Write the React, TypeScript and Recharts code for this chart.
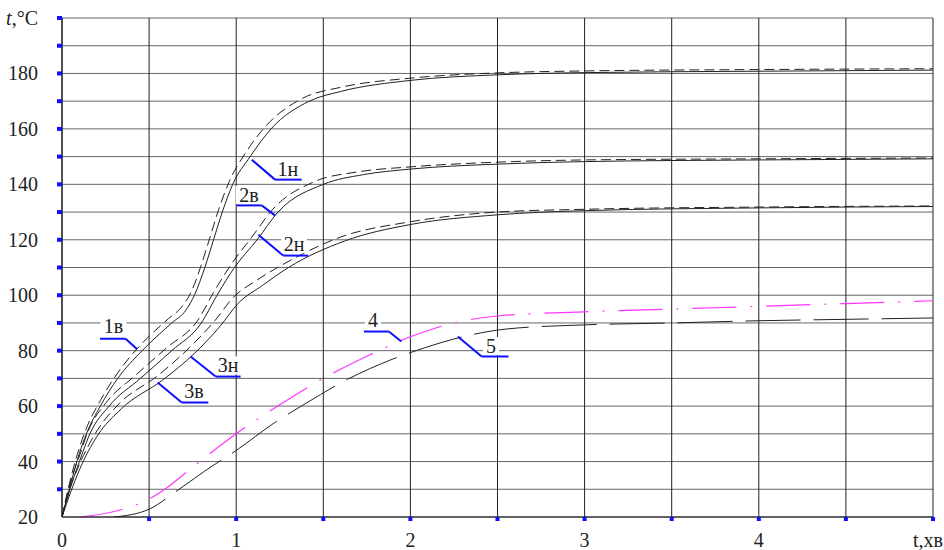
import React from "react";
import { LineChart, Line, XAxis, YAxis, CartesianGrid, ReferenceLine, ReferenceDot } from "recharts";

// ---- Series data (x: time, хв ; y: temperature, °C) ----
const curve1n = [
  { x: 0, y: 20 }, { x: 0.05, y: 32 }, { x: 0.1, y: 43 }, { x: 0.14, y: 50 }, { x: 0.22, y: 60 },
  { x: 0.32, y: 70 }, { x: 0.46, y: 80 }, { x: 0.63, y: 90 }, { x: 0.71, y: 94.5 }, { x: 0.76, y: 100 },
  { x: 0.82, y: 110 }, { x: 0.87, y: 120 }, { x: 0.92, y: 130 }, { x: 0.98, y: 140 }, { x: 1.08, y: 150 },
  { x: 1.2, y: 160 }, { x: 1.42, y: 170 }, { x: 1.6, y: 173.5 }, { x: 2, y: 177.5 }, { x: 2.5, y: 179.5 },
  { x: 3, y: 180.3 }, { x: 4, y: 180.8 }, { x: 5, y: 181.2 },
];
const curve1v = [
  { x: 0, y: 20 }, { x: 0.05, y: 34 }, { x: 0.1, y: 45 }, { x: 0.14, y: 52 }, { x: 0.22, y: 62 },
  { x: 0.32, y: 72 }, { x: 0.45, y: 82 }, { x: 0.61, y: 91.5 }, { x: 0.69, y: 96 }, { x: 0.74, y: 101 },
  { x: 0.8, y: 111 }, { x: 0.85, y: 121 }, { x: 0.9, y: 131 }, { x: 0.96, y: 141 }, { x: 1.05, y: 151 },
  { x: 1.17, y: 161 }, { x: 1.38, y: 171 }, { x: 1.6, y: 175 }, { x: 2, y: 178.3 }, { x: 2.5, y: 180.2 },
  { x: 3, y: 180.9 }, { x: 4, y: 181.4 }, { x: 5, y: 181.7 },
];
const curve2n = [
  { x: 0, y: 20 }, { x: 0.05, y: 31 }, { x: 0.1, y: 40 }, { x: 0.16, y: 50 }, { x: 0.27, y: 60 },
  { x: 0.45, y: 70 }, { x: 0.63, y: 80 }, { x: 0.8, y: 90 }, { x: 0.89, y: 100 }, { x: 0.99, y: 110 },
  { x: 1.12, y: 120 }, { x: 1.24, y: 130 }, { x: 1.5, y: 140 }, { x: 1.73, y: 143.5 }, { x: 2, y: 145.5 },
  { x: 2.5, y: 147.3 }, { x: 3, y: 148.2 }, { x: 4, y: 148.8 }, { x: 5, y: 149.2 },
];
const curve2v = [
  { x: 0, y: 20 }, { x: 0.05, y: 33 }, { x: 0.1, y: 42 }, { x: 0.15, y: 51 }, { x: 0.25, y: 61 },
  { x: 0.42, y: 71 }, { x: 0.6, y: 81 }, { x: 0.78, y: 91 }, { x: 0.87, y: 101 }, { x: 0.97, y: 111 },
  { x: 1.09, y: 121 }, { x: 1.21, y: 131 }, { x: 1.45, y: 141 }, { x: 1.7, y: 144.5 }, { x: 2, y: 146.3 },
  { x: 2.5, y: 148 }, { x: 3, y: 148.8 }, { x: 4, y: 149.2 }, { x: 5, y: 149.5 },
];
const curve3n = [
  { x: 0, y: 20 }, { x: 0.05, y: 29 }, { x: 0.1, y: 37 }, { x: 0.2, y: 49 }, { x: 0.34, y: 59 },
  { x: 0.58, y: 69.5 }, { x: 0.76, y: 79 }, { x: 0.91, y: 89 }, { x: 1.01, y: 97 }, { x: 1.15, y: 103.5 },
  { x: 1.3, y: 110 }, { x: 1.62, y: 119.5 }, { x: 2, y: 125.5 }, { x: 2.5, y: 129 }, { x: 3, y: 130.5 },
  { x: 4, y: 131.5 }, { x: 5, y: 132 },
];
const curve3v = [
  { x: 0, y: 20 }, { x: 0.05, y: 31 }, { x: 0.1, y: 39 }, { x: 0.2, y: 51 }, { x: 0.33, y: 61 },
  { x: 0.55, y: 71 }, { x: 0.73, y: 81 }, { x: 0.88, y: 91 }, { x: 0.98, y: 99 }, { x: 1.12, y: 105.5 },
  { x: 1.28, y: 111.5 }, { x: 1.6, y: 121 }, { x: 2, y: 126.5 }, { x: 2.5, y: 130 }, { x: 3, y: 131 },
  { x: 4, y: 131.8 }, { x: 5, y: 132.2 },
];
const curve4 = [
  { x: 0.1, y: 20 }, { x: 0.3, y: 22 }, { x: 0.5, y: 26.5 }, { x: 0.6, y: 30.5 }, { x: 0.75, y: 38 },
  { x: 1, y: 50 }, { x: 1.25, y: 60.5 }, { x: 1.5, y: 70 }, { x: 1.75, y: 78 }, { x: 2, y: 85 },
  { x: 2.25, y: 90 }, { x: 2.5, y: 92.5 }, { x: 3, y: 94 }, { x: 3.5, y: 95 }, { x: 4, y: 96 },
  { x: 4.5, y: 97 }, { x: 5, y: 98 },
];
const curve5 = [
  { x: 0.3, y: 20 }, { x: 0.5, y: 22.8 }, { x: 0.65, y: 29 }, { x: 0.82, y: 36.6 }, { x: 1, y: 44 },
  { x: 1.22, y: 54 }, { x: 1.4, y: 61 }, { x: 1.64, y: 69.7 }, { x: 1.9, y: 77 }, { x: 2.08, y: 81 },
  { x: 2.3, y: 85 }, { x: 2.55, y: 87.8 }, { x: 3, y: 89.3 }, { x: 3.5, y: 90 }, { x: 4, y: 90.8 },
  { x: 4.5, y: 91.3 }, { x: 5, y: 91.8 },
];

// ---- Axis ticks ----
const xTicks = [0, 0.5, 1, 1.5, 2, 2.5, 3, 3.5, 4, 4.5, 5];
const yTicks = [20, 30, 40, 50, 60, 70, 80, 90, 100, 110, 120, 130, 140, 150, 160, 170, 180, 190, 200];
const xAxisTitle = "t,хв";
const yAxisTitle = "°C";

// ---- Annotations: label text, text position, leader (pointer -> elbow -> end) ----
const annLabels = ["1в", "1н", "2в", "2н", "3н", "3в", "4", "5"];
const annTextPos = [
  { x: 0.296, y: 88.8 }, { x: 1.297, y: 145.5 }, { x: 1.073, y: 136.2 }, { x: 1.332, y: 118.4 },
  { x: 0.953, y: 74.7 }, { x: 0.758, y: 65.3 }, { x: 1.785, y: 91.1 }, { x: 2.463, y: 81.7 },
];
const annPointer = [
  { x: 0.43, y: 80.6 }, { x: 1.089, y: 148.9 }, { x: 1.223, y: 128.8 }, { x: 1.127, y: 121.8 },
  { x: 0.738, y: 77.9 }, { x: 0.549, y: 68.5 }, { x: 1.948, y: 83.3 }, { x: 2.272, y: 85.1 },
];
const annElbow = [
  { x: 0.365, y: 84.3 }, { x: 1.223, y: 141.7 }, { x: 1.146, y: 132.4 }, { x: 1.27, y: 114.3 },
  { x: 0.882, y: 70.65 }, { x: 0.687, y: 61.3 }, { x: 1.876, y: 86.9 }, { x: 2.409, y: 77.9 },
];
const annEnd = [
  { x: 0.218, y: 84.3 }, { x: 1.376, y: 141.7 }, { x: 1.003, y: 132.4 }, { x: 1.414, y: 114.3 },
  { x: 1.025, y: 70.65 }, { x: 0.84, y: 61.3 }, { x: 1.733, y: 86.9 }, { x: 2.563, y: 77.9 },
];

const FONT = "Liberation Serif";
const TEXT = "#222";
const BLUE = "#1010ff";
const textStyle = { fontFamily: FONT, fontSize: 20 };

const XTick = (props: any) => {
  const { x, y, payload } = props;
  const v = payload.value;
  return (
    <g>
      {v > 0 && <rect x={x - 2} y={y} width={4} height={4} fill={BLUE} />}
      {v === 5 ? (
        <text x={x + 10} y={y + 30} textAnchor="end" style={textStyle} fill={TEXT}>
          {xAxisTitle}
        </text>
      ) : Number.isInteger(v) ? (
        <text x={x} y={y + 30} textAnchor="middle" style={textStyle} fill={TEXT}>
          {String(v)}
        </text>
      ) : null}
    </g>
  );
};

const YTick = (props: any) => {
  const { x, y, payload } = props;
  const v = payload.value;
  return (
    <g>
      {v > 20 && <rect x={x - 5} y={y - 2} width={5} height={4} fill={BLUE} />}
      {v === 200 ? (
        <text x={x - 24} y={y + 7} textAnchor="end" style={textStyle} fill={TEXT}>
          <tspan fontStyle="italic">t</tspan>
          <tspan>,{yAxisTitle}</tspan>
        </text>
      ) : v % 20 === 0 ? (
        <text x={x - 24} y={y + 7} textAnchor="end" style={textStyle} fill={TEXT}>
          {String(v)}
        </text>
      ) : null}
    </g>
  );
};

const makeLabelShape = (label: string) => (props: any) => {
  const { cx, cy } = props;
  const w = label.length * 10 + 6;
  return (
    <g>
      <rect x={cx - w / 2} y={cy - 9} width={w} height={18} fill="#fff" />
      <text x={cx} y={cy + 7} textAnchor="middle" style={textStyle} fill={TEXT}>
        {label}
      </text>
    </g>
  );
};

export default function App() {
  return (
    <div style={{ position: "absolute", left: 0, top: 0, width: 944, height: 550, background: "#fff" }}>
      <LineChart width={944} height={550} margin={{ top: 18, right: 11, bottom: 3, left: 0 }}>
        <CartesianGrid horizontal={true} vertical={false} stroke="#666" strokeWidth={1} />
        <CartesianGrid horizontal={false} vertical={true} stroke="#222" strokeWidth={1} />
        <XAxis
          type="number"
          dataKey="x"
          domain={[0, 5]}
          ticks={xTicks}
          interval={0}
          tickSize={0}
          tickMargin={0}
          tickLine={false}
          axisLine={{ stroke: "#111" }}
          height={30}
          tick={<XTick />}
          allowDataOverflow
        />
        <YAxis
          type="number"
          dataKey="y"
          domain={[20, 200]}
          ticks={yTicks}
          interval={0}
          tickSize={0}
          tickMargin={0}
          tickLine={false}
          axisLine={{ stroke: "#111" }}
          width={62}
          tick={<YTick />}
          allowDataOverflow
        />
        {annLabels.map((lab, i) => (
          <ReferenceDot
            key={"t" + i}
            x={annTextPos[i].x}
            y={annTextPos[i].y}
            r={1}
            ifOverflow="visible"
            shape={makeLabelShape(lab)}
          />
        ))}
        <Line data={curve1v} dataKey="y" type="monotone" stroke="#222" strokeWidth={1} strokeDasharray="10 5" dot={false} isAnimationActive={false} name="1в" />
        <Line data={curve1n} dataKey="y" type="monotone" stroke="#222" strokeWidth={1} dot={false} isAnimationActive={false} name="1н" />
        <Line data={curve2v} dataKey="y" type="monotone" stroke="#222" strokeWidth={1} strokeDasharray="10 5" dot={false} isAnimationActive={false} name="2в" />
        <Line data={curve2n} dataKey="y" type="monotone" stroke="#222" strokeWidth={1} dot={false} isAnimationActive={false} name="2н" />
        <Line data={curve3v} dataKey="y" type="monotone" stroke="#222" strokeWidth={1} strokeDasharray="10 5" dot={false} isAnimationActive={false} name="3в" />
        <Line data={curve3n} dataKey="y" type="monotone" stroke="#222" strokeWidth={1} dot={false} isAnimationActive={false} name="3н" />
        <Line data={curve4} dataKey="y" type="monotone" stroke="#ff33ff" strokeWidth={1.2} strokeDasharray="44 14 2 14" dot={false} isAnimationActive={false} name="4" />
        <Line data={curve5} dataKey="y" type="monotone" stroke="#222" strokeWidth={1} strokeDasharray="55 13" dot={false} isAnimationActive={false} name="5" />
        {annLabels.map((lab, i) => (
          <ReferenceLine
            key={"d" + i}
            segment={[annPointer[i], annElbow[i]]}
            stroke={BLUE}
            strokeWidth={2}
            ifOverflow="visible"
          />
        ))}
        {annLabels.map((lab, i) => (
          <ReferenceLine
            key={"u" + i}
            segment={[annElbow[i], annEnd[i]]}
            stroke={BLUE}
            strokeWidth={2}
            ifOverflow="visible"
          />
        ))}
      </LineChart>
    </div>
  );
}
